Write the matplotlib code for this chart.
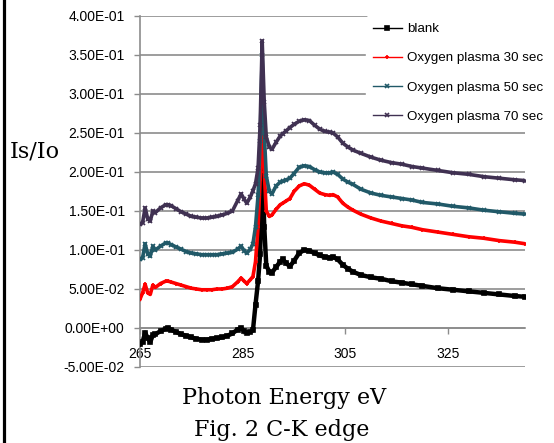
import numpy as np
import matplotlib
matplotlib.use('Agg')
import matplotlib.pyplot as plt
from matplotlib.lines import Line2D
from matplotlib.ticker import FuncFormatter

# photon energy (eV)
energy = [265, 265.5, 266, 266.5, 267, 267.5, 268, 269, 270, 270.5, 271, 272, 273,
          274, 275, 276, 277, 278, 279, 280, 281, 282, 283, 284, 284.7, 285.3,
          285.8, 286.5, 287, 287.5, 288, 288.4, 288.8, 289.2, 289.6, 290.2, 290.7,
          291.5, 292.3, 292.8, 293.5, 294.2, 295, 296, 297, 298, 299, 300, 301,
          302, 302.6, 303.5, 304.5, 305.5, 306.5, 308, 310, 312, 314, 316, 318,
          320, 323, 326, 329, 332, 335, 338, 340]

blank = [-0.021, -0.018, -0.006, -0.013, -0.018, -0.009, -0.008, -0.004, -0.001, 0.000,
         -0.002, -0.005, -0.008, -0.010, -0.012, -0.014, -0.015, -0.015, -0.014, -0.013,
         -0.012, -0.010, -0.007, -0.002, 0.000, -0.004, -0.006, -0.005, -0.003, 0.030,
         0.060, 0.095, 0.220, 0.130, 0.080, 0.072, 0.071, 0.078, 0.085, 0.088, 0.083,
         0.079, 0.086, 0.096, 0.100, 0.099, 0.096, 0.093, 0.091, 0.090, 0.091, 0.088,
         0.081, 0.076, 0.072, 0.068, 0.065, 0.063, 0.060, 0.058, 0.056, 0.054, 0.051,
         0.049, 0.047, 0.045, 0.043, 0.041, 0.040]

o2_30 = [0.037, 0.045, 0.056, 0.045, 0.043, 0.055, 0.052, 0.057, 0.060, 0.060, 0.059,
         0.057, 0.055, 0.053, 0.051, 0.050, 0.049, 0.049, 0.049, 0.050, 0.050, 0.051,
         0.053, 0.059, 0.064, 0.060, 0.057, 0.062, 0.066, 0.085, 0.130, 0.190, 0.290,
         0.200, 0.150, 0.143, 0.145, 0.152, 0.158, 0.160, 0.163, 0.166, 0.175, 0.182,
         0.185, 0.183, 0.178, 0.173, 0.171, 0.170, 0.171, 0.168, 0.160, 0.155, 0.151,
         0.146, 0.141, 0.137, 0.134, 0.131, 0.129, 0.126, 0.123, 0.120, 0.117, 0.115,
         0.112, 0.110, 0.108]

o2_50 = [0.088, 0.090, 0.108, 0.095, 0.092, 0.105, 0.100, 0.105, 0.109, 0.109, 0.107,
         0.104, 0.101, 0.098, 0.096, 0.095, 0.094, 0.094, 0.094, 0.094, 0.095, 0.096,
         0.097, 0.101, 0.105, 0.099, 0.096, 0.101, 0.108, 0.130, 0.170, 0.240, 0.350,
         0.250, 0.195, 0.175, 0.172, 0.182, 0.187, 0.188, 0.190, 0.192, 0.198, 0.206,
         0.208, 0.207, 0.203, 0.200, 0.199, 0.199, 0.200, 0.197, 0.191, 0.187, 0.184,
         0.178, 0.173, 0.170, 0.168, 0.166, 0.164, 0.161, 0.159, 0.156, 0.154, 0.151,
         0.149, 0.147, 0.146]

o2_70 = [0.133, 0.135, 0.154, 0.140, 0.137, 0.150, 0.148, 0.154, 0.158, 0.158, 0.157,
         0.153, 0.149, 0.146, 0.143, 0.142, 0.141, 0.141, 0.142, 0.143, 0.145, 0.147,
         0.150, 0.163, 0.172, 0.165, 0.160, 0.168, 0.176, 0.185, 0.205, 0.260, 0.368,
         0.290, 0.245, 0.232, 0.229, 0.238, 0.246, 0.249, 0.253, 0.257, 0.261, 0.265,
         0.267, 0.266, 0.260, 0.255, 0.252, 0.251, 0.250, 0.245, 0.237, 0.232, 0.228,
         0.224, 0.219, 0.215, 0.212, 0.210, 0.207, 0.205, 0.202, 0.199, 0.197, 0.194,
         0.192, 0.190, 0.189]

labels = ['blank', 'Oxygen plasma 30 sec', 'Oxygen plasma 50 sec', 'Oxygen plasma 70 sec']
colors = ['#000000', '#ff0000', '#215968', '#403152']
markers = ['s', '+', 'x', 'x']
series = [blank, o2_30, o2_50, o2_70]
xticks = [265, 285, 305, 325]

grid_col = '#8c8c8c'

fig = plt.figure(figsize=(5.54, 4.43), dpi=100)
ax = fig.add_axes([0.2527, 0.1716, 0.695, 0.7923])

for vals, col, mk, lw in zip(series, colors, markers, [3.2, 2.6, 2.6, 2.6]):
    ax.plot(energy, vals, color=col, lw=lw, marker=mk, ms=3, mew=1.2,
            solid_joinstyle='round', zorder=3)

ax.set_xlim(265, 340)
ax.set_ylim(-0.05, 0.40)
ax.set_yticks(np.arange(-0.05, 0.401, 0.05))
ax.yaxis.set_major_formatter(FuncFormatter(lambda v, p: '{:.2E}'.format(round(v, 3) + 0.0)))
ax.set_xticks(xticks)
ax.grid(axis='y', color=grid_col, lw=1.2, zorder=0)

for s in ['top', 'right']:
    ax.spines[s].set_visible(False)
ax.spines['bottom'].set_position(('data', 0))
ax.spines['bottom'].set_color(grid_col)
ax.spines['left'].set_color(grid_col)
ax.spines['bottom'].set_linewidth(1.2)
ax.spines['left'].set_linewidth(1.2)

ax.tick_params(axis='y', direction='out', length=4, width=1, color=grid_col,
               labelsize=10, pad=7)
ax.tick_params(axis='x', direction='out', length=4, width=1, color=grid_col,
               labelsize=10, pad=10)
for t in ax.get_xticklabels() + ax.get_yticklabels():
    t.set_fontfamily('Liberation Sans')

handles = [Line2D([0], [0], color=c, lw=1, marker=m, ms=3, mew=1.2)
           for c, m in zip(colors, markers)]
leg = ax.legend(handles, labels, loc='upper left', bbox_to_anchor=(0.57, 1.018),
                frameon=True, facecolor='white', edgecolor='white', framealpha=1,
                handlelength=2.2, handletextpad=0.36, labelspacing=1.26,
                borderpad=0.5, prop={'family': 'Liberation Sans', 'size': 9.6})
leg.set_zorder(5)

fig.text(0.063, 0.657, 'Is/Io', family='DejaVu Serif', fontsize=16, ha='center', va='center')
fig.text(0.513, 0.101, 'Photon Energy eV', family='DejaVu Serif', fontsize=16,
         ha='center', va='center')
fig.text(0.508, 0.030, 'Fig. 2 C-K edge', family='DejaVu Serif', fontsize=16,
         ha='center', va='center')

# frame line on the left edge
fig.add_artist(Line2D([0.0065, 0.0065], [0, 1], color='black', lw=2.3))

fig.savefig('out.png', dpi=100)
